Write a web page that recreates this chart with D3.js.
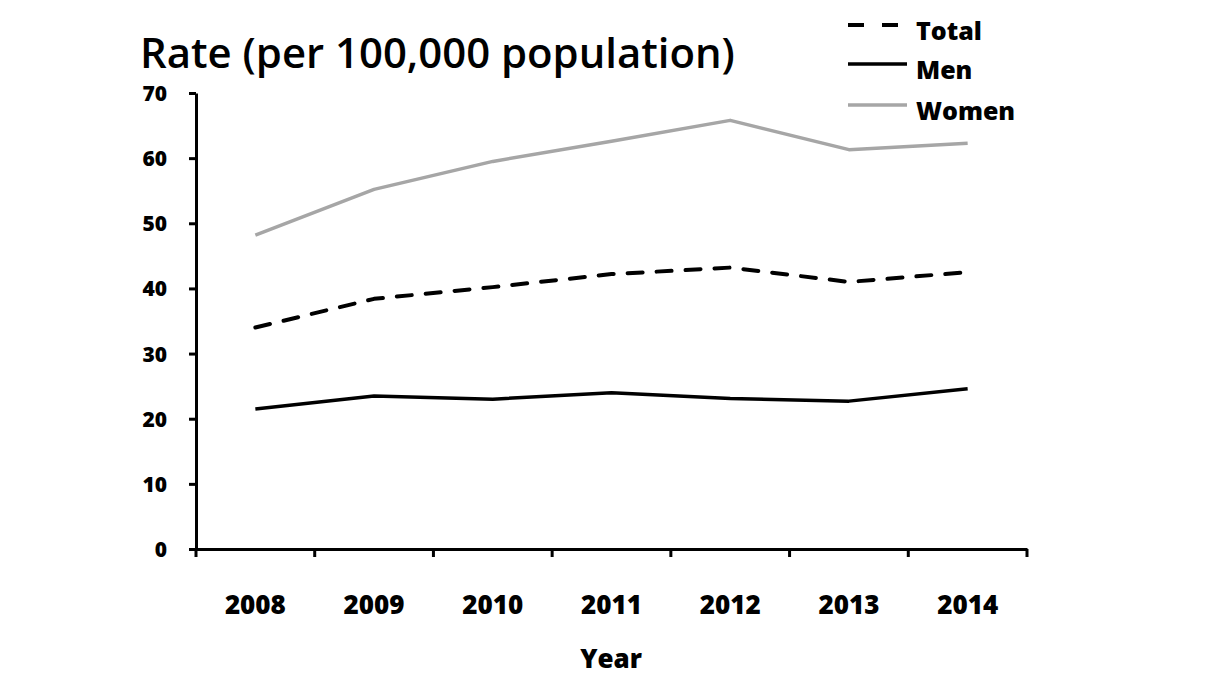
<!DOCTYPE html>
<html><head><meta charset="utf-8">
<script src="https://cdn.jsdelivr.net/npm/d3@7"></script>
<style>body{margin:0;background:#fff}svg{display:block}</style>
</head><body><svg id="c" width="1205" height="686"></svg>
<script>
const years = ["2008","2009","2010","2011","2012","2013","2014"];
const totalVals = [34.0, 38.4, 40.2, 42.2, 43.2, 41.0, 42.5];
const menVals = [21.5, 23.5, 23.0, 24.0, 23.1, 22.7, 24.6];
const womenVals = [48.2, 55.2, 59.5, 62.6, 65.8, 61.3, 62.3];
const yTicks = [0,10,20,30,40,50,60,70];
const seriesNames = ["Total","Men","Women"];

const svg = d3.select("#c");
const FONT = "'Open Sans', 'DejaVu Sans', sans-serif";
const x = d3.scaleBand().domain(years).range([196, 1027]).padding(0);
const y = d3.scaleLinear().domain([0, 70]).range([549, 93]);

// Y axis
const ya = svg.append("g").attr("transform","translate(196,0)")
  .call(d3.axisLeft(y).tickValues(yTicks).tickSize(7).tickSizeOuter(0).tickPadding(22));
ya.select(".domain").attr("stroke","#000").attr("stroke-width",3);
ya.selectAll(".tick line").attr("stroke","#000").attr("stroke-width",3);
ya.selectAll(".tick text").attr("font-family",FONT).attr("font-weight",800).attr("font-size",21).attr("fill","#000").attr("dy","0.36em");

// X axis: labels
const xa = svg.append("g").attr("transform","translate(0,549)")
  .call(d3.axisBottom(x).tickSize(0).tickSizeOuter(0).tickPadding(47));
xa.select(".domain").attr("stroke","#000").attr("stroke-width",3);
xa.selectAll(".tick text").attr("font-family",FONT).attr("font-weight",800).attr("font-size",26).attr("fill","#000");
// boundary tick marks
const bounds = years.map(d => x(d)).concat([x.range()[1]]);
svg.append("g").selectAll("line").data(bounds).join("line")
  .attr("x1",d=>d).attr("x2",d=>d).attr("y1",549).attr("y2",557)
  .attr("stroke","#000").attr("stroke-width",3);

// Lines
const line = d3.line().x((d,i)=>x(years[i]) + x.bandwidth()/2).y(d=>y(d));
const styles = {
  Total: {vals: totalVals, color:"#000", width:4, dash:"15,14"},
  Men: {vals: menVals, color:"#000", width:3.5, dash:null},
  Women: {vals: womenVals, color:"#a6a6a6", width:3.5, dash:null}
};
seriesNames.forEach(n => {
  const s = styles[n];
  svg.append("path").attr("d", line(s.vals)).attr("fill","none")
    .attr("stroke", s.color).attr("stroke-width", s.width)
    .attr("stroke-linecap", s.dash ? "round" : "butt")
    .attr("stroke-linejoin","round")
    .attr("stroke-dasharray", s.dash);
});

// Legend
const legY = [25, 64, 105];
seriesNames.forEach((n,i) => {
  const s = styles[n];
  svg.append("line").attr("x1",848).attr("x2",907).attr("y1",legY[i]).attr("y2",legY[i])
    .attr("stroke", s.color).attr("stroke-width", s.width)
    .attr("stroke-dasharray", s.dash ? "16,18" : null);
  svg.append("text").attr("x",916).attr("y",legY[i]+15).text(n)
    .attr("font-family",FONT).attr("font-weight",800).attr("font-size",25).attr("fill","#000");
});

// Title
const title = svg.append("text").attr("x",140).attr("y",68).text("Rate (per 100,000 population)")
  .attr("font-family",FONT).attr("font-weight",600).attr("font-size",37).attr("fill","#000");
const tw = title.node().getComputedTextLength();
title.attr("font-size", 37 * 595 / tw);

// X title
svg.append("text").attr("x",611).attr("y",668).attr("text-anchor","middle").text("Year")
  .attr("font-family",FONT).attr("font-weight",800).attr("font-size",26).attr("fill","#000");
</script></body></html>
